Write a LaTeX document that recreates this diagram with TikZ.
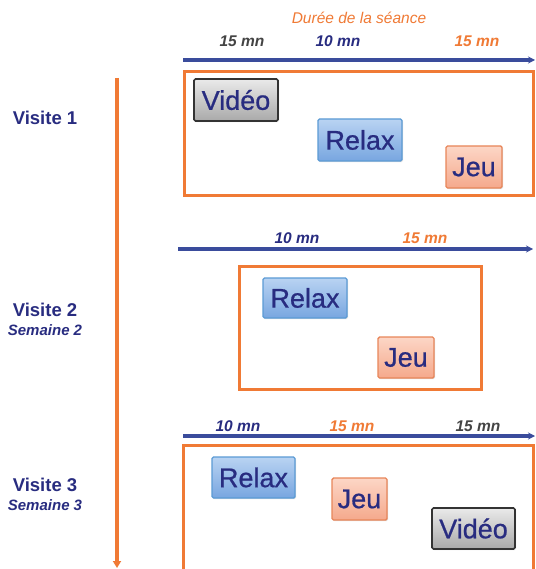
\documentclass[tikz,border=0pt]{standalone}
\usepackage{fontspec}
\setmainfont{Liberation Sans}
\newfontfamily\boxfont[FakeBold=0.7]{Liberation Sans}
\usetikzlibrary{arrows.meta,shadows}
\definecolor{navy}{HTML}{282C80}
\definecolor{orng}{HTML}{F07A35}
\definecolor{lineblue}{HTML}{3A4C9C}
\definecolor{dgray}{HTML}{444444}
\definecolor{relaxdraw}{HTML}{5B9BD5}
\definecolor{relaxtop}{HTML}{B9D3F2}
\definecolor{relaxbot}{HTML}{78A6E0}
\definecolor{jeudraw}{HTML}{E8865A}
\definecolor{jeutop}{HTML}{FCD6C6}
\definecolor{jeubot}{HTML}{F5A98C}
\definecolor{viddraw}{HTML}{333333}
\definecolor{vidtop}{HTML}{EAEAEA}
\definecolor{vidbot}{HTML}{A9A9A9}
\tikzset{
  pbox/.style={rounded corners=1.5pt, inner sep=0pt, text=navy, font=\boxfont\fontsize{27}{27}\selectfont,
    drop shadow={opacity=0.25, shadow xshift=1pt, shadow yshift=-1.2pt}},
  relaxbox/.style={pbox, draw=relaxdraw, line width=1.4pt, top color=relaxtop, bottom color=relaxbot},
  jeubox/.style={pbox, draw=jeudraw, line width=1.4pt, top color=jeutop, bottom color=jeubot},
  videobox/.style={pbox, draw=viddraw, line width=1.6pt, top color=vidtop, bottom color=vidbot},
  frame/.style={draw=orng, line width=3pt},
  timeline/.style={draw=lineblue, line width=3.2pt, -{Stealth[length=7pt,width=7pt]}},
  mn/.style={font=\fontsize{15.5}{15.5}\selectfont\bfseries\itshape},
  visite/.style={text=navy, font=\fontsize{18.5}{18.5}\selectfont\bfseries},
  semaine/.style={text=navy, font=\fontsize{15}{15}\selectfont\bfseries\itshape},
}
\begin{document}
\begin{tikzpicture}[x=1pt,y=-1pt]
\useasboundingbox (0,0) rectangle (535,569);
\clip (0,0) rectangle (535,569);
\fill[white] (0,0) rectangle (535,569);

% vertical time arrow
\coordinate (vtop) at (117,78);
\coordinate (vbot) at (117,568);
\draw[draw=orng, line width=3.2pt, -{Triangle[length=7pt,width=8pt]}] (vtop) -- (vbot);

% left labels
\node[visite] (v1) at (45,118) {Visite 1};
\node[visite] (v2) at (45,310) {Visite 2};
\node[semaine] (s2) at (45,330) {Semaine 2};
\node[visite] (v3) at (45,485) {Visite 3};
\node[semaine] (s3) at (45,505) {Semaine 3};

% section 1
\node[font=\fontsize{15.5}{15.5}\selectfont\itshape, text=orng] (title) at (359,18) {Durée de la séance};
\node[mn, text=dgray] (a1) at (242,41) {15 mn};
\node[mn, text=navy] (a2) at (338,41) {10 mn};
\node[mn, text=orng] (a3) at (477,41) {15 mn};
\coordinate (t1s) at (183,60);
\coordinate (t1e) at (535,60);
\draw[timeline] (t1s) -- (t1e);
\draw[frame] (184,72) rectangle (533,196);
\node[videobox, minimum width=84pt, minimum height=42pt] (vid1) at (236,100) {Vidéo};
\node[relaxbox, minimum width=84pt, minimum height=42pt] (rel1) at (360,140) {Relax};
\node[jeubox, minimum width=56pt, minimum height=42pt] (jeu1) at (474,167) {Jeu};

% section 2
\node[mn, text=navy] (b1) at (297,238) {10 mn};
\node[mn, text=orng] (b2) at (425,238) {15 mn};
\coordinate (t2s) at (178,249);
\coordinate (t2e) at (533,249);
\draw[timeline] (t2s) -- (t2e);
\draw[frame] (239,266) rectangle (481,389);
\node[relaxbox, minimum width=84pt, minimum height=40pt] (rel2) at (305,298) {Relax};
\node[jeubox, minimum width=56pt, minimum height=41pt] (jeu2) at (406,357.5) {Jeu};

% section 3
\node[mn, text=navy] (c1) at (238,426) {10 mn};
\node[mn, text=orng] (c2) at (352,426) {15 mn};
\node[mn, text=dgray] (c3) at (478,426) {15 mn};
\coordinate (t3s) at (183,436);
\coordinate (t3e) at (535,436);
\draw[timeline] (t3s) -- (t3e);
\draw[frame] (183,445) rectangle (533,580);
\node[relaxbox, minimum width=83pt, minimum height=41pt] (rel3) at (253.5,477.5) {Relax};
\node[jeubox, minimum width=55pt, minimum height=42pt] (jeu3) at (359.5,499) {Jeu};
\node[videobox, minimum width=83pt, minimum height=41pt] (vid3) at (473.5,528.5) {Vidéo};
\end{tikzpicture}
\end{document}
